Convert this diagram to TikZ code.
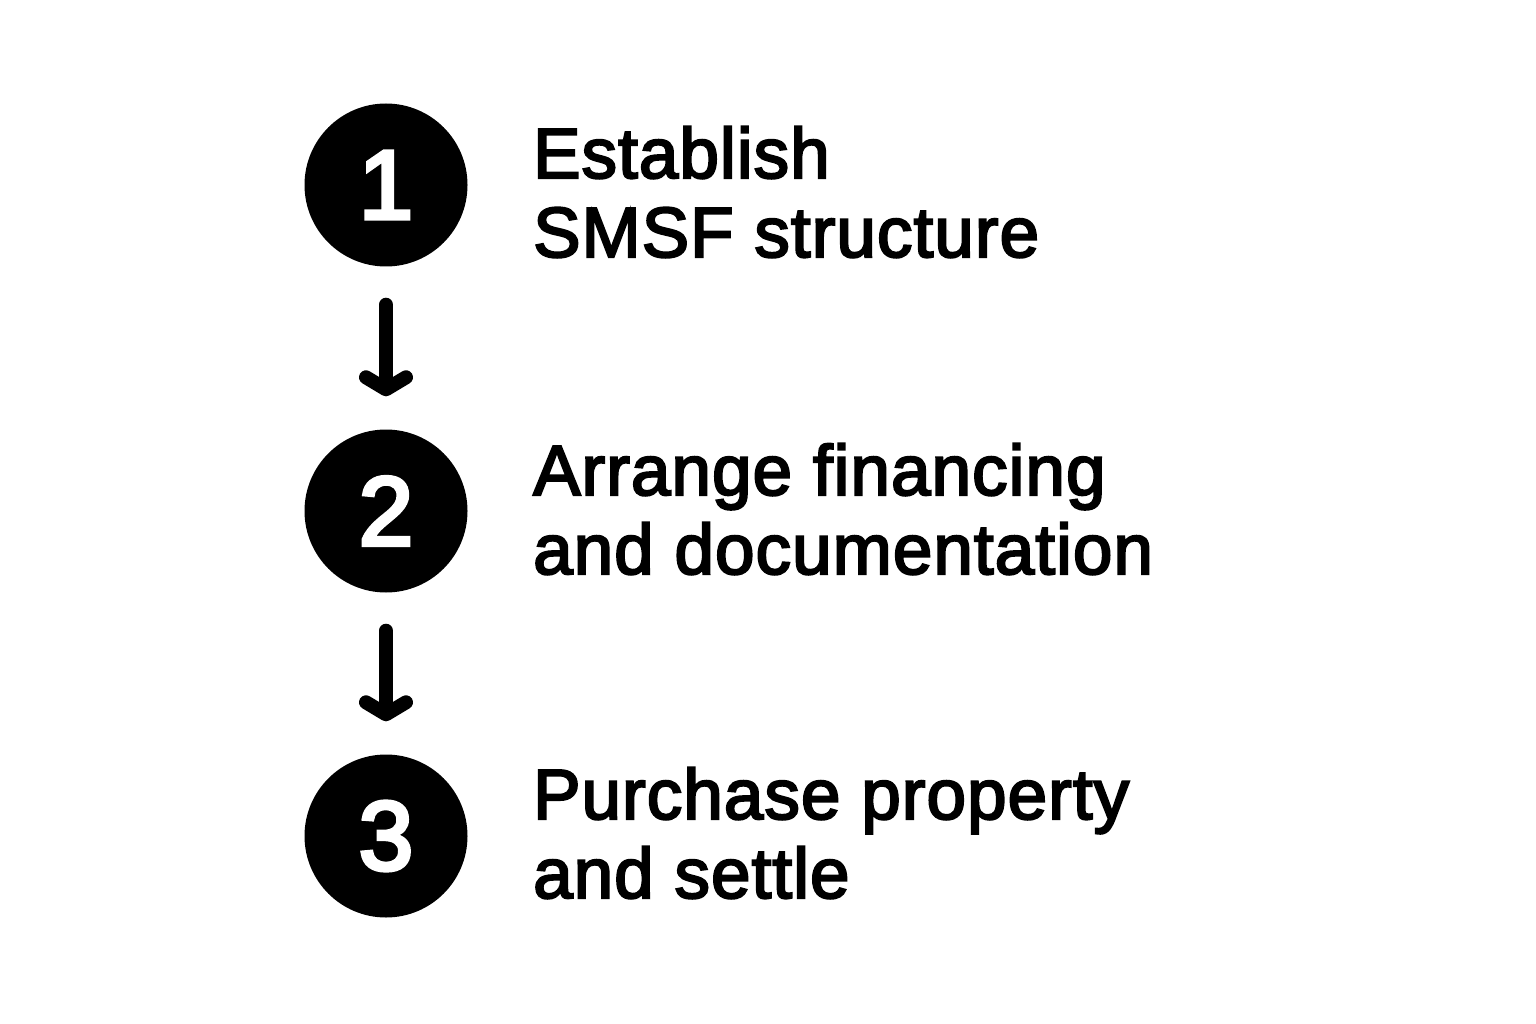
\documentclass[tikz,border=0pt]{standalone}
\usepackage{fontspec}
\setmainfont{Liberation Sans}
\newfontfamily\stepfont{Liberation Sans}[FakeBold=3, LetterSpace=1.5]
\newfontfamily\numfont{Liberation Sans}[FakeBold=4]
\usetikzlibrary{arrows.meta}
\tikzset{
  stepnum/.style={circle, fill=black, minimum size=163pt, inner sep=0pt, text=white,
    font=\numfont\fontsize{98}{98}\selectfont},
  steptext/.style={anchor=base west, align=left, inner sep=0pt,
    font=\stepfont\fontsize{71}{79}\selectfont},
  flowarrow/.style={line width=14pt, line cap=round,
    -{Straight Barb[length=12pt,width=40pt,round]}, shorten <=38pt, shorten >=33pt}
}
\begin{document}
\begin{tikzpicture}[x=1pt,y=-1pt]
\useasboundingbox (0,0) rectangle (1536,1024);
\node[stepnum] (c1) at (386,185) {1};
\node[stepnum] (c2) at (386,511) {2};
\node[stepnum] (c3) at (386,836) {3};
\node[steptext] (t1) at (533,257) {Establish\\SMSF structure};
\node[steptext] (t2) at (533,574) {Arrange financing\\and documentation};
\node[steptext] (t3) at (533,898) {Purchase property\\and settle};
\draw[flowarrow] (c1) -- (c2);
\draw[flowarrow] (c2) -- (c3);
\end{tikzpicture}
\end{document}
